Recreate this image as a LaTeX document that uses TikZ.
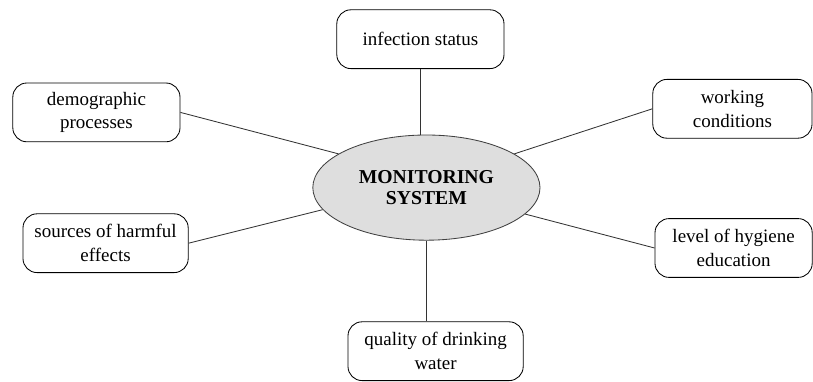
\documentclass[tikz,border=0pt]{standalone}
\usepackage{fontspec}
\IfFontExistsTF{LiberationSerif-Regular.ttf}
  {\setmainfont{LiberationSerif}[Extension=.ttf,UprightFont=*-Regular,BoldFont=*-Bold,ItalicFont=*-Italic,BoldItalicFont=*-BoldItalic]}
  {\setmainfont{Liberation Serif}}
\usepackage{tikz}
\usetikzlibrary{shapes.geometric}

\begin{document}
\begin{tikzpicture}[
    font=\fontsize{13.5}{17}\selectfont,
    factor/.style={rectangle,draw,rounded corners=10pt,line width=0.6pt,align=center,minimum width=4.1cm,minimum height=1.47cm},
    core/.style={ellipse,draw=black!75,fill=black!13,line width=0.6pt,align=center,minimum width=5.68cm,minimum height=2.63cm,font=\fontsize{14}{14.5}\selectfont\bfseries},
    link/.style={draw=black!80,line width=0.6pt}
]
\useasboundingbox (0,0) rectangle (20.325,-9.525);

\node[core] (ms) at (10.66,-4.69) {MONITORING\\SYSTEM};
\node[factor,minimum width=4.18cm] (inf) at (10.51,-0.98) {infection status};
\node[factor,minimum width=4.18cm] (dem) at (2.41,-2.81) {demographic\\processes};
\node[factor,minimum width=3.98cm] (work) at (18.31,-2.72) {working\\conditions};
\node[factor,minimum width=4.13cm] (src) at (2.64,-6.08) {sources of harmful\\effects};
\node[factor,minimum width=3.93cm] (hyg) at (18.34,-6.2) {level of hygiene\\education};
\node[factor,minimum width=4.38cm] (qual) at (10.89,-8.78) {quality of drinking\\water};

\draw[link] (inf.south) -- (inf.south |- ms.north);
\draw[link] (dem.east) -- (ms.159);
\draw[link] (work.west) -- (ms.21);
\draw[link] (src.east) -- (ms.192);
\draw[link] (hyg.west) -- (ms.345);
\draw[link] (ms.south) -- (ms.south |- qual.north);
\end{tikzpicture}
\end{document}
